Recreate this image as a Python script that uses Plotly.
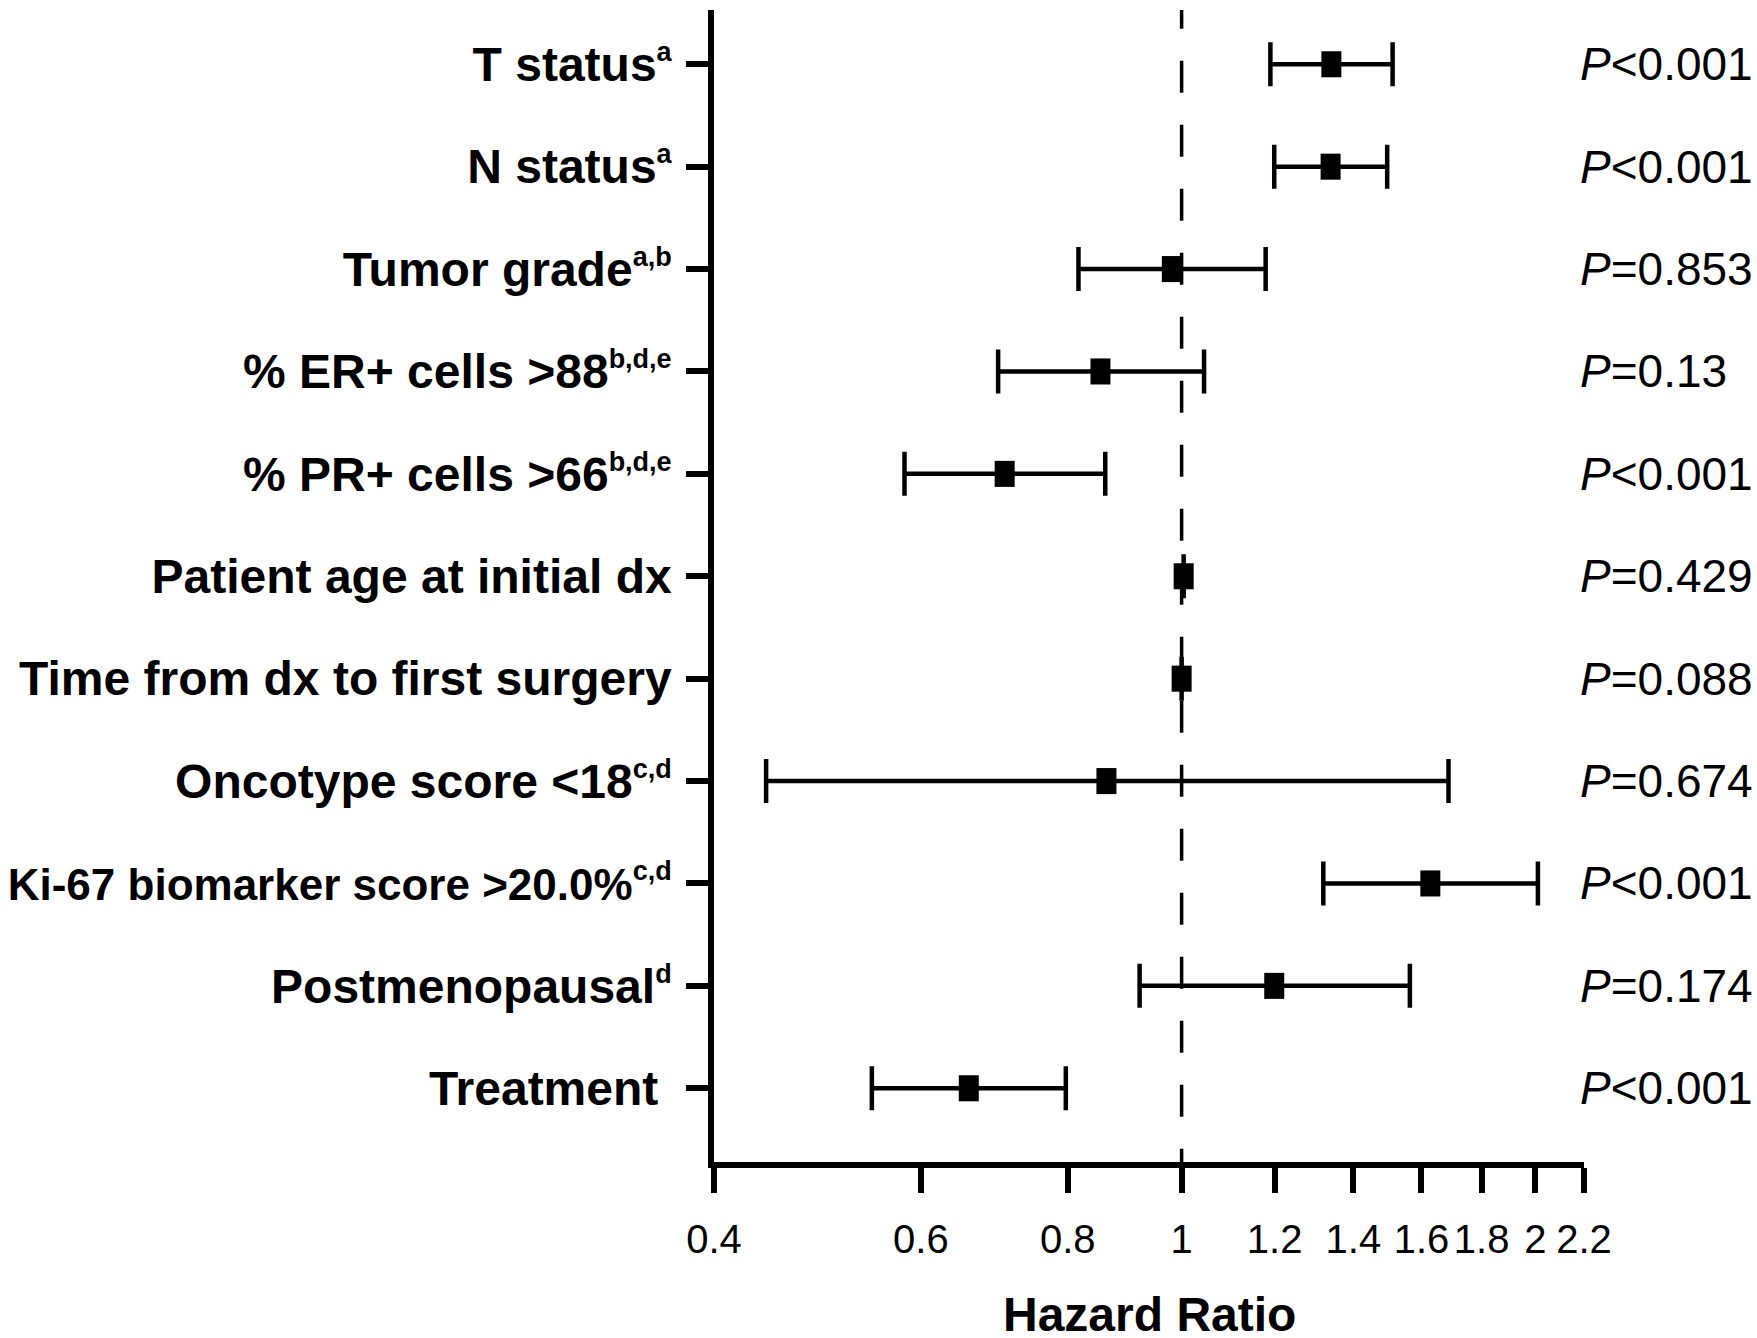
import math
import plotly.graph_objects as go

# ---------------- data ----------------
categories = [
    "T status", "N status", "Tumor grade", "% ER+ cells &gt;88", "% PR+ cells &gt;66",
    "Patient age at initial dx", "Time from dx to first surgery", "Oncotype score &lt;18",
    "Ki-67 biomarker score &gt;20.0%", "Postmenopausal", "Treatment\u00a0",
]
superscripts = ["a", "a", "a,b", "b,d,e", "b,d,e", "", "", "c,d", "c,d", "d", ""]
hazard_ratio = [1.341, 1.339, 0.981, 0.853, 0.707, 1.004, 1.000, 0.863, 1.628, 1.199, 0.659]
# CI of the two continuous covariates is hidden behind the marker in the figure
ci_low = [1.190, 1.199, 0.817, 0.698, 0.581, None, None, 0.443, 1.320, 0.921, 0.545]
ci_high = [1.512, 1.496, 1.179, 1.045, 0.861, None, None, 1.687, 2.010, 1.564, 0.797]
p_values = ["&lt;0.001", "&lt;0.001", "=0.853", "=0.13", "&lt;0.001", "=0.429", "=0.088",
            "=0.674", "&lt;0.001", "=0.174", "&lt;0.001"]
x_tick_vals = [0.4, 0.6, 0.8, 1, 1.2, 1.4, 1.6, 1.8, 2, 2.2]
x_tick_text = ["0.4", "0.6", "0.8", "1", "1.2", "1.4", "1.6", "1.8", "2", "2.2"]
x_title = "Hazard Ratio"

# ---------------- styling ----------------
FONT = "Liberation Sans, Arial, sans-serif"
label_size_override = {8: 44}

rows = list(range(len(categories)))
ticktext = []
for i, (c, s) in enumerate(zip(categories, superscripts)):
    main = c
    if i in label_size_override:
        main = f'<span style="font-size:{label_size_override[i]}px">{c}</span>'
    sup = f'<sup><span style="font-size:27px">{s}</span></sup>' if s else ""
    ticktext.append(f"<b>{main}{sup}</b>")

err_plus = [None if h is None else h - m for h, m in zip(ci_high, hazard_ratio)]
err_minus = [None if l is None else m - l for m, l in zip(hazard_ratio, ci_low)]

fig = go.Figure()
fig.add_trace(go.Scatter(
    x=hazard_ratio, y=rows, mode="markers",
    marker=dict(symbol="line-ns", size=18.6, color="black",
                line=dict(width=20, color="black")),
    error_x=dict(type="data", symmetric=False, array=err_plus, arrayminus=err_minus,
                 color="black", thickness=4.5, width=22),
    hoverinfo="skip", showlegend=False,
))

y_top, y_bottom = -0.53, 10.72
fig.add_shape(type="line", xref="x", yref="y", x0=1, x1=1, y0=y_top - 0.13, y1=y_bottom,
              line=dict(color="black", width=3.5, dash="32px,32px"))

for r, p in zip(rows, p_values):
    fig.add_annotation(x=0.9931, xref="paper", y=r, yref="y", xanchor="left", yanchor="middle",
                       text=f"<i>P</i>{p}", showarrow=False,
                       font=dict(family=FONT, size=46, color="black"))

fig.add_annotation(x=0.5, xref="paper", y=-0.132, yref="paper", xanchor="center", yanchor="middle",
                   text=f"<b>{x_title}</b>", showarrow=False,
                   font=dict(family=FONT, size=48, color="black"))

fig.update_xaxes(type="log", range=[math.log10(0.4), math.log10(2.2)], automargin=False,
                 tickmode="array", tickvals=x_tick_vals, ticktext=x_tick_text, tickangle=0,
                 ticks="outside", ticklen=25, tickwidth=5.5, tickcolor="black",
                 showline=True, linewidth=5.5, linecolor="black",
                 showgrid=False, zeroline=False, ticklabelstandoff=12,
                 tickfont=dict(family=FONT, size=40, color="black"))
fig.update_yaxes(range=[y_bottom, y_top], automargin=False, tickmode="array",
                 tickvals=rows, ticktext=ticktext,
                 ticks="outside", ticklen=22, tickwidth=5.5, tickcolor="black",
                 showline=True, linewidth=5.5, linecolor="black",
                 showgrid=False, zeroline=False, ticklabelstandoff=5,
                 tickfont=dict(family=FONT, size=48, color="black"))

fig.update_layout(width=1757, height=1338, autosize=False,
                  margin=dict(l=714, r=173, t=10, b=176, pad=0, autoexpand=False),
                  plot_bgcolor="white", paper_bgcolor="white", showlegend=False)

# remove the browser's default 8px body margin so the figure fills the window
fig.write_html("out.html", config={"displayModeBar": False},
               post_script="document.body.style.margin='0px';document.body.style.overflow='hidden';")
